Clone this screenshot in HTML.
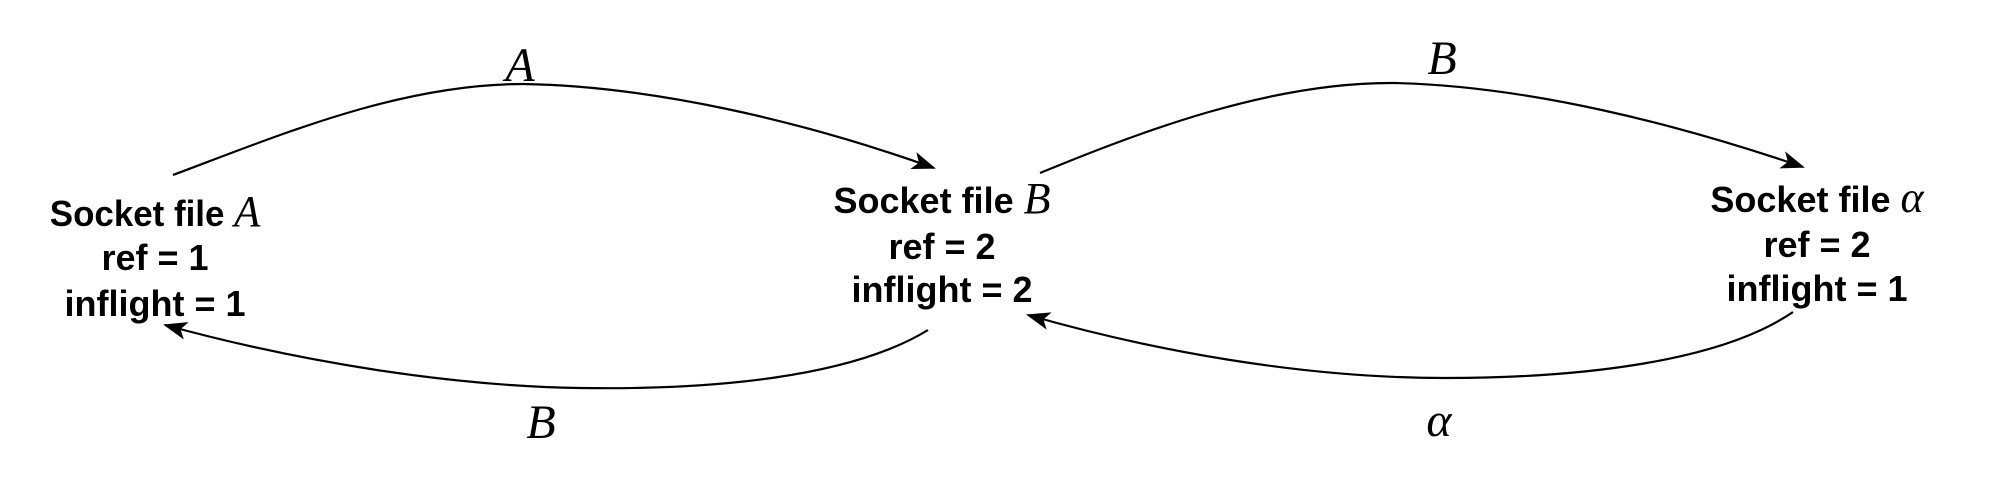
<!DOCTYPE html>
<html><head><meta charset="utf-8"><style>
html,body{margin:0;padding:0;background:#fff;}
svg{display:block;}
.n{font-family:"Liberation Sans",Arial,sans-serif;font-weight:bold;font-size:36px;fill:#000;}
.m{font-family:"Liberation Serif",serif;font-style:italic;font-weight:normal;}
</style></head><body>
<svg width="1999" height="494" viewBox="0 0 1999 494" xmlns="http://www.w3.org/2000/svg">
<defs>
<marker id="ar" viewBox="0 0 24 18" refX="22" refY="9" markerWidth="24" markerHeight="18" markerUnits="userSpaceOnUse" orient="auto">
<path d="M0,0 L24,9 L0,18 L6,9 Z" fill="#000"/>
</marker>
</defs>
<g fill="none" stroke="#000" stroke-width="2.2">
<path d="M173 175 C280 135, 400 84, 523 84 C650 86, 800 120, 934 168" marker-end="url(#ar)"/>
<path d="M928 330 C850 378, 710 390, 580 388 C450 386, 300 362, 165 325" marker-end="url(#ar)"/>
<path d="M1040 173 C1140 132, 1270 82, 1394 83 C1530 86, 1680 125, 1803 167" marker-end="url(#ar)"/>
<path d="M1793 312 C1720 362, 1580 378, 1445 378 C1300 378, 1150 350, 1028 315" marker-end="url(#ar)"/>
</g>
<g class="n" text-anchor="middle">
<text x="520" y="81" class="m" font-size="48">A</text>
<text x="541" y="438" class="m" font-size="48">B</text>
<text x="1442" y="74" class="m" font-size="48">B</text>
<text x="1439" y="436" class="m" font-size="48">α</text>

<text x="155" y="226" transform="translate(155 0) scale(0.97 1) translate(-155 0)">Socket file <tspan class="m" font-size="44">A</tspan></text>
<text x="155" y="270">ref = 1</text>
<text x="155" y="316">inflight = 1</text>

<text x="942" y="213">Socket file <tspan class="m" font-size="44">B</tspan></text>
<text x="942" y="259">ref = 2</text>
<text x="942" y="302">inflight = 2</text>

<text x="1817" y="212">Socket file <tspan class="m" font-size="44">α</tspan></text>
<text x="1817" y="257">ref = 2</text>
<text x="1817" y="301">inflight = 1</text>
</g>
</svg>
</body></html>
